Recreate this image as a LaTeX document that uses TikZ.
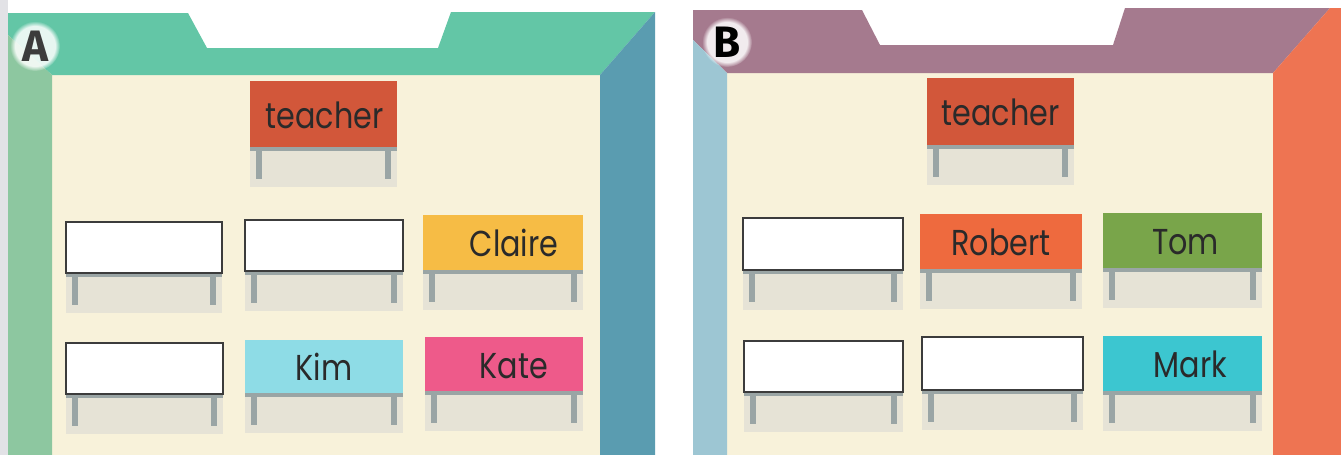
\documentclass[tikz,border=0pt]{standalone}
\usepackage{fontspec}
\newfontfamily\deskfont[FakeStretch=0.84]{Poppins}
\newfontfamily\labelfont{Fira Sans}
\usetikzlibrary{fadings}
\definecolor{bandA}{HTML}{63C6A6}
\definecolor{rightA}{HTML}{5A9CB0}
\definecolor{leftA}{HTML}{8DC7A0}
\definecolor{bandB}{HTML}{A57A8E}
\definecolor{leftB}{HTML}{9DC6D3}
\definecolor{rightB}{HTML}{EE7452}
\definecolor{cream}{HTML}{F8F2DA}
\definecolor{teacherc}{HTML}{D2573A}
\definecolor{clairec}{HTML}{F6BC45}
\definecolor{kimc}{HTML}{8EDCE6}
\definecolor{katec}{HTML}{EE5A8A}
\definecolor{robertc}{HTML}{EE6A3E}
\definecolor{tomc}{HTML}{79A54A}
\definecolor{markc}{HTML}{3CC6D0}
\definecolor{legc}{HTML}{9AA5A5}
\definecolor{shadowc}{HTML}{E6E3D6}
\definecolor{textc}{HTML}{2A2A2A}
\definecolor{borderc}{HTML}{3C3C3C}
\definecolor{gutter}{HTML}{E2E2E6}
\tikzset{
  desktop/.style={inner sep=0pt, font=\deskfont\fontsize{36}{36}\selectfont, text=textc},
  emptydesk/.style={desktop, fill=white, draw=borderc, line width=2.5pt},
  deskshadow/.style={fill=shadowc},
  deskleg/.style={fill=legc},
  roomlabel/.style={font=\labelfont\bfseries\fontsize{44}{44}\selectfont, inner sep=0pt},
}
\newcommand\dtext[2][0pt]{\hspace*{#1}\raisebox{-14pt}[0pt][0pt]{#2}}
% name, x1, y1, x2, y2, style, text
\newcommand\desk[7]{%
  \fill[deskshadow] (#2,#5) rectangle (#4,#5+40);
  \fill[deskleg] (#2,#5) rectangle (#4,#5+4);
  \fill[deskleg] (#2+6,#5) rectangle (#2+12,#5+32);
  \fill[deskleg] (#4-12,#5) rectangle (#4-6,#5+32);
  \node[#6, minimum width={(#4-(#2))*1pt}, minimum height={(#5-(#3))*1pt}] (#1) at ({(#2+#4)/2},{(#3+#5)/2}) {#7};
}
\begin{document}
\begin{tikzpicture}[x=1pt,y=-1pt]
\useasboundingbox (0,0) rectangle (1341,455);
\fill[white] (0,0) rectangle (1341,455);
\fill[gutter] (0,0) rectangle (8,455);
% ---------- Room A ----------
\fill[cream] (52,75) rectangle (600,455);
\fill[bandA] (8,13) -- (188,13) -- (207,48) -- (438,48) -- (451,12) -- (655,12) -- (600,75) -- (52,75) -- (8,35) -- cycle;
\fill[leftA] (8,35) -- (52,75) -- (52,455) -- (8,455) -- cycle;
\fill[rightA] (600,75) -- (655,12) -- (655,455) -- (600,455) -- cycle;
\fill[white, opacity=0.85, path fading=circle with fuzzy edge 20 percent] (35,46) circle (25);
\node[roomlabel, text=borderc] (labA) at (35,46) {A};
% ---------- Room B ----------
\fill[cream] (727,73) rectangle (1273,455);
\fill[bandB] (693,10) -- (862,10) -- (880,45) -- (1113,45) -- (1125,8) -- (1330,8) -- (1273,73) -- (727,73) -- (693,40) -- cycle;
\fill[leftB] (693,40) -- (727,73) -- (727,455) -- (693,455) -- cycle;
\fill[rightB] (1273,73) -- (1330,8) -- (1341,8) -- (1341,455) -- (1273,455) -- cycle;
\fill[white, opacity=0.85, path fading=circle with fuzzy edge 20 percent] (727,42) circle (25);
\node[roomlabel, text=black] (labB) at (727,42) {B};
% ---------- Desks A ----------
\desk{tA}{250}{81}{397}{147}{desktop, fill=teacherc}{\dtext[2pt]{teacher}}
\desk{a11}{66}{222}{222}{273}{emptydesk}{}
\desk{a12}{245}{220}{403}{271}{emptydesk}{}
\desk{a13}{423}{215}{583}{270}{desktop, fill=clairec}{\dtext[22pt]{Claire}}
\desk{a21}{66}{343}{223}{394}{emptydesk}{}
\desk{a22}{245}{340}{403}{393}{desktop, fill=kimc}{\dtext{Kim}}
\desk{a23}{425}{337}{583}{391}{desktop, fill=katec}{\dtext[20pt]{Kate}}
% ---------- Desks B ----------
\desk{tB}{927}{78}{1074}{145}{desktop, fill=teacherc}{\dtext{teacher}}
\desk{b11}{743}{218}{903}{270}{emptydesk}{}
\desk{b12}{920}{214}{1082}{269}{desktop, fill=robertc}{\dtext{Robert}}
\desk{b13}{1103}{213}{1262}{268}{desktop, fill=tomc}{\dtext[6pt]{Tom}}
\desk{b21}{744}{341}{903}{392}{emptydesk}{}
\desk{b22}{922}{337}{1083}{390}{emptydesk}{}
\desk{b23}{1103}{336}{1262}{391}{desktop, fill=markc}{\dtext[16pt]{Mark}}
\end{tikzpicture}
\end{document}
